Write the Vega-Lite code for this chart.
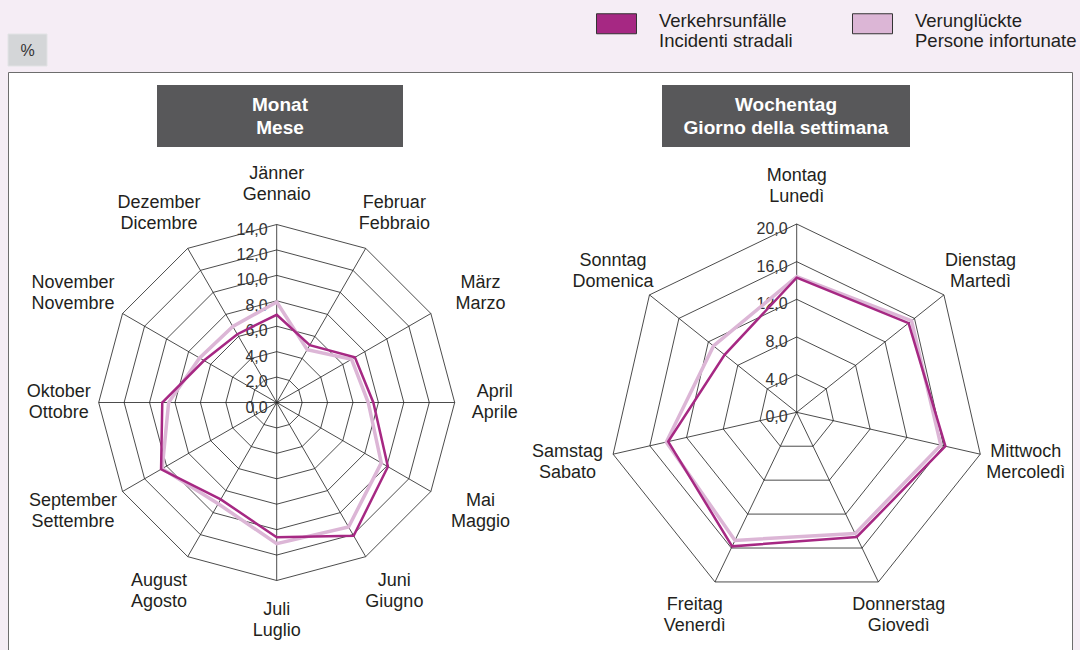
{
  "$schema": "https://vega.github.io/schema/vega-lite/v6.json",
  "width": 1064,
  "height": 578,
  "autosize": {"type": "none"},
  "padding": {"left": 8, "top": 72, "right": 8, "bottom": 0},
  "background": "#f5edf5",
  "config": {
    "view": {"fill": "white", "stroke": "#6d6d6d", "strokeWidth": 1},
    "locale": {"number": {"decimal": ",", "thousands": ".", "grouping": [3], "currency": ["", " €"]}},
    "text": {"font": "Liberation Sans"}
  },
  "datasets": {
    "axes": [
      {"chart": "Monat", "max": 14, "levels": [0, 2, 4, 6, 8, 10, 12, 14]},
      {"chart": "Wochentag", "max": 20, "levels": [0, 4, 8, 12, 16, 20]}
    ],
    "cats": [
      {"chart": "Monat", "idx": 0, "n": 12, "label": "Jänner\nGennaio", "accidents": 6.9, "casualties": 7.9},
      {"chart": "Monat", "idx": 1, "n": 12, "label": "Februar\nFebbraio", "accidents": 5.2, "casualties": 4.8},
      {"chart": "Monat", "idx": 2, "n": 12, "label": "März\nMarzo", "accidents": 7.1, "casualties": 6.8},
      {"chart": "Monat", "idx": 3, "n": 12, "label": "April\nAprile", "accidents": 7.6, "casualties": 7.2},
      {"chart": "Monat", "idx": 4, "n": 12, "label": "Mai\nMaggio", "accidents": 10.1, "casualties": 9.5},
      {"chart": "Monat", "idx": 5, "n": 12, "label": "Juni\nGiugno", "accidents": 12.1, "casualties": 11.3},
      {"chart": "Monat", "idx": 6, "n": 12, "label": "Juli\nLuglio", "accidents": 10.6, "casualties": 11.1},
      {"chart": "Monat", "idx": 7, "n": 12, "label": "August\nAgosto", "accidents": 8.8, "casualties": 9.2},
      {"chart": "Monat", "idx": 8, "n": 12, "label": "September\nSettembre", "accidents": 10.5, "casualties": 10.4},
      {"chart": "Monat", "idx": 9, "n": 12, "label": "Oktober\nOttobre", "accidents": 9.0, "casualties": 8.5},
      {"chart": "Monat", "idx": 10, "n": 12, "label": "November\nNovembre", "accidents": 6.6, "casualties": 7.0},
      {"chart": "Monat", "idx": 11, "n": 12, "label": "Dezember\nDicembre", "accidents": 6.2, "casualties": 6.9},
      {"chart": "Wochentag", "idx": 0, "n": 7, "label": "Montag\nLunedì", "accidents": 14.3, "casualties": 14.4},
      {"chart": "Wochentag", "idx": 1, "n": 7, "label": "Dienstag\nMartedì", "accidents": 15.2, "casualties": 15.6},
      {"chart": "Wochentag", "idx": 2, "n": 7, "label": "Mittwoch\nMercoledì", "accidents": 16.2, "casualties": 15.7},
      {"chart": "Wochentag", "idx": 3, "n": 7, "label": "Donnerstag\nGiovedì", "accidents": 14.7, "casualties": 14.3},
      {"chart": "Wochentag", "idx": 4, "n": 7, "label": "Freitag\nVenerdì", "accidents": 15.8, "casualties": 15.1},
      {"chart": "Wochentag", "idx": 5, "n": 7, "label": "Samstag\nSabato", "accidents": 14.0, "casualties": 14.2},
      {"chart": "Wochentag", "idx": 6, "n": 7, "label": "Sonntag\nDomenica", "accidents": 9.8, "casualties": 11.3}
    ],
    "titles": [
      {"chart": "Monat", "title": "Monat\nMese"},
      {"chart": "Wochentag", "title": "Wochentag\nGiorno della settimana"}
    ],
    "unit": [{"label": "%"}]
  },
  "data": {"name": "cats"},
  "transform": [
    {"lookup": "chart", "from": {"data": {"name": "axes"}, "key": "chart", "fields": ["max", "levels"]}},
    {"calculate": "datum.chart === 'Monat' ? 268.7 : 788.7", "as": "cx"},
    {"calculate": "datum.chart === 'Monat' ? 330.5 : 340.3", "as": "cy"},
    {"calculate": "datum.chart === 'Monat' ? 178 : 188.3", "as": "R"},
    {"calculate": "2 * PI * datum.idx / datum.n", "as": "th"}
  ],
  "encoding": {
    "x": {"field": "X", "type": "quantitative", "scale": {"domain": [0, 1064], "nice": false, "zero": false}, "axis": null},
    "y": {"field": "Y", "type": "quantitative", "scale": {"domain": [0, 578], "nice": false, "zero": false, "reverse": true}, "axis": null}
  },
  "layer": [
    {
      "transform": [
        {"flatten": ["levels"], "as": ["level"]},
        {"filter": "datum.level > 0"},
        {"calculate": "datum.cx + datum.R * datum.level / datum.max * sin(datum.th)", "as": "X"},
        {"calculate": "datum.cy - datum.R * datum.level / datum.max * cos(datum.th)", "as": "Y"}
      ],
      "mark": {"type": "line", "interpolate": "linear-closed", "stroke": "#1e1e1e", "strokeWidth": 0.8},
      "encoding": {
        "detail": [{"field": "chart", "type": "nominal"}, {"field": "level", "type": "ordinal"}],
        "order": {"field": "idx", "type": "quantitative"}
      }
    },
    {
      "transform": [
        {"calculate": "datum.cx", "as": "X"},
        {"calculate": "datum.cy", "as": "Y"},
        {"calculate": "datum.cx + datum.R * sin(datum.th)", "as": "X2"},
        {"calculate": "datum.cy - datum.R * cos(datum.th)", "as": "Y2"}
      ],
      "mark": {"type": "rule", "stroke": "#1e1e1e", "strokeWidth": 0.8},
      "encoding": {
        "x2": {"field": "X2"},
        "y2": {"field": "Y2"}
      }
    },
    {
      "transform": [
        {"filter": "datum.idx === 0"},
        {"flatten": ["levels"], "as": ["level"]},
        {"calculate": "datum.cx", "as": "X"},
        {"calculate": "datum.cy - datum.R * datum.level / datum.max", "as": "Y"}
      ],
      "mark": {"type": "text", "align": "right", "baseline": "middle", "dx": -9, "dy": 5, "fontSize": 16, "fill": "#333333"},
      "encoding": {
        "text": {"field": "level", "type": "quantitative", "format": ".1f"}
      }
    },
    {
      "transform": [
        {"calculate": "datum.chart === 'Monat' ? 218 + 20 * abs(sin(2 * datum.th)) : 235", "as": "LA"},
        {"calculate": "datum.chart === 'Monat' ? 218 : 226", "as": "LB"},
        {"calculate": "datum.cx + datum.LA * sin(datum.th)", "as": "X"},
        {"calculate": "datum.cy - datum.LB * cos(datum.th)", "as": "Y"}
      ],
      "mark": {"type": "text", "align": "center", "baseline": "middle", "lineBreak": "\n", "fontSize": 18, "lineHeight": 21, "dy": -10.5, "fill": "#231f20"},
      "encoding": {
        "text": {"field": "label", "type": "nominal"}
      }
    },
    {
      "transform": [
        {"fold": ["accidents", "casualties"], "as": ["series", "value"]},
        {"calculate": "datum.cx + datum.R * datum.value / datum.max * sin(datum.th)", "as": "X"},
        {"calculate": "datum.cy - datum.R * datum.value / datum.max * cos(datum.th)", "as": "Y"}
      ],
      "mark": {"type": "point", "filled": true, "shape": "square", "size": 2, "opacity": 1},
      "encoding": {
        "fill": {
          "field": "series",
          "type": "nominal",
          "scale": {"domain": ["accidents", "casualties"], "range": ["#a62883", "#dcb6d6"]},
          "legend": {
            "orient": "none",
            "legendX": 588,
            "legendY": -72,
            "direction": "horizontal",
            "title": null,
            "padding": 0,
            "symbolType": "M-1,-0.35H1V0.65H-1Z",
            "symbolSize": 1600,
            "symbolStrokeColor": "#333333",
            "symbolStrokeWidth": 1,
            "symbolOpacity": 1,
            "labelExpr": "datum.label === 'accidents' ? ['Verkehrsunfälle', 'Incidenti stradali'] : ['Verunglückte', 'Persone infortunate']",
            "labelFont": "Liberation Sans",
            "labelFontSize": 18.5,
            "labelLineHeight": 22,
            "labelColor": "#231f20",
            "labelOffset": 22,
            "labelLimit": 400,
            "columnPadding": 57
          }
        }
      }
    },
    {
      "transform": [
        {"calculate": "datum.cx + datum.R * datum.casualties / datum.max * sin(datum.th)", "as": "X"},
        {"calculate": "datum.cy - datum.R * datum.casualties / datum.max * cos(datum.th)", "as": "Y"}
      ],
      "mark": {"type": "line", "interpolate": "linear-closed", "stroke": "#dcb6d6", "strokeWidth": 3.5},
      "encoding": {
        "detail": {"field": "chart", "type": "nominal"},
        "order": {"field": "idx", "type": "quantitative"}
      }
    },
    {
      "transform": [
        {"calculate": "datum.cx + datum.R * datum.accidents / datum.max * sin(datum.th)", "as": "X"},
        {"calculate": "datum.cy - datum.R * datum.accidents / datum.max * cos(datum.th)", "as": "Y"}
      ],
      "mark": {"type": "line", "interpolate": "linear-closed", "stroke": "#a62883", "strokeWidth": 2.5},
      "encoding": {
        "detail": {"field": "chart", "type": "nominal"},
        "order": {"field": "idx", "type": "quantitative"}
      }
    },
    {
      "data": {"name": "titles"},
      "transform": [
        {"calculate": "datum.chart === 'Monat' ? 149 : 654", "as": "X"},
        {"calculate": "datum.chart === 'Monat' ? 395 : 902", "as": "X2"},
        {"calculate": "13", "as": "Y"},
        {"calculate": "75", "as": "Y2"}
      ],
      "mark": {"type": "rect", "fill": "#58585a"},
      "encoding": {
        "x2": {"field": "X2"},
        "y2": {"field": "Y2"}
      }
    },
    {
      "data": {"name": "titles"},
      "transform": [
        {"calculate": "datum.chart === 'Monat' ? 272 : 778", "as": "X"},
        {"calculate": "44", "as": "Y"}
      ],
      "mark": {"type": "text", "align": "center", "baseline": "middle", "lineBreak": "\n", "fontSize": 19, "fontWeight": "bold", "lineHeight": 23, "dy": -11.5, "fill": "white"},
      "encoding": {
        "text": {"field": "title", "type": "nominal"}
      }
    },
    {
      "data": {"name": "unit"},
      "transform": [
        {"calculate": "0", "as": "X"},
        {"calculate": "39", "as": "X2"},
        {"calculate": "-38", "as": "Y"},
        {"calculate": "-6", "as": "Y2"}
      ],
      "mark": {"type": "rect", "fill": "#d4d6d8", "stroke": "#e2e3e5", "strokeWidth": 1},
      "encoding": {
        "x2": {"field": "X2"},
        "y2": {"field": "Y2"}
      }
    },
    {
      "data": {"name": "unit"},
      "transform": [
        {"calculate": "19.5", "as": "X"},
        {"calculate": "-21", "as": "Y"}
      ],
      "mark": {"type": "text", "align": "center", "baseline": "middle", "fontSize": 16, "fill": "#333333"},
      "encoding": {
        "text": {"field": "label", "type": "nominal"}
      }
    }
  ]
}
